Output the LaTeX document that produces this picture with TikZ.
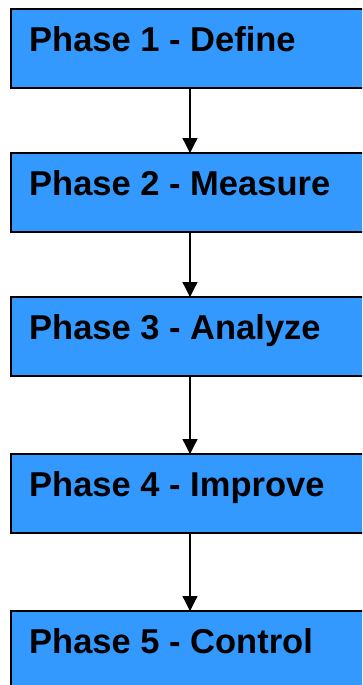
\documentclass[tikz,border=0pt]{standalone}
\usepackage{fontspec}
\setmainfont{Liberation Sans}
\usetikzlibrary{arrows.meta}
\definecolor{phaseblue}{HTML}{3399FF}
\tikzset{
  phasebox/.style={draw=black, line width=1.3pt, fill=phaseblue},
  phasetext/.style={anchor=base west, inner sep=0pt, font=\bfseries\fontsize{34.5}{40}\selectfont},
  flow/.style={draw=black, line width=1.3pt, -{Triangle[width=15pt,length=15pt]}}
}
\begin{document}
\begin{tikzpicture}[x=1pt,y=-1pt]
\useasboundingbox (0,0) rectangle (362,685);
\clip (0,0) rectangle (362,685);
% boxes run past the right and bottom edges
\draw[phasebox] (11,9) rectangle (380,88);
\draw[phasebox] (11,153) rectangle (380,232);
\draw[phasebox] (11,297) rectangle (380,376);
\draw[phasebox] (11,454) rectangle (380,533);
\draw[phasebox] (11,611) rectangle (380,700);
\node[phasetext] (p1) at (29,52) {Phase 1 - Define};
\node[phasetext] (p2) at (29,195) {Phase 2 - Measure};
\node[phasetext] (p3) at (29,339) {Phase 3 - Analyze};
\node[phasetext] (p4) at (29,496) {Phase 4 - Improve};
\node[phasetext] (p5) at (29,653) {Phase 5 - Control};
% connector end points on the box edges
\coordinate (b1) at (190,88);  \coordinate (t2) at (190,153);
\coordinate (b2) at (190,232); \coordinate (t3) at (190,297);
\coordinate (b3) at (190,376); \coordinate (t4) at (190,454);
\coordinate (b4) at (190,533); \coordinate (t5) at (190,611);
\draw[flow] (b1) -- (t2);
\draw[flow] (b2) -- (t3);
\draw[flow] (b3) -- (t4);
\draw[flow] (b4) -- (t5);
\end{tikzpicture}
\end{document}
